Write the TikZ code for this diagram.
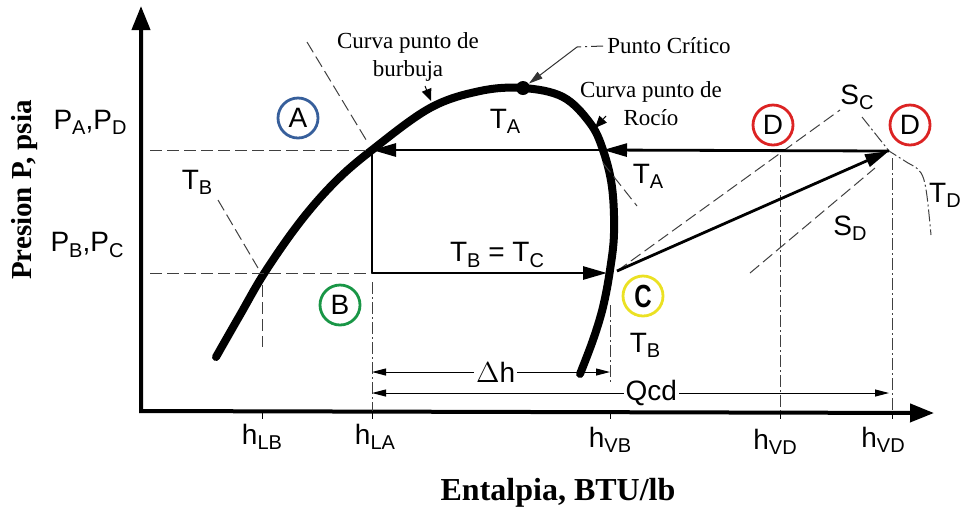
\documentclass[tikz,border=0pt]{standalone}
\usepackage{fontspec}
\setmainfont{Liberation Serif}
\newfontfamily\arial{Liberation Sans}
\definecolor{stateblue}{RGB}{55,95,155}
\definecolor{stategreen}{RGB}{25,150,70}
\definecolor{stateyellow}{RGB}{235,225,35}
\definecolor{statered}{RGB}{220,35,35}
\newcommand{\lo}[1]{\raisebox{-0.35ex}{\fontsize{10}{10}\selectfont #1}}
\usetikzlibrary{
  arrows.meta,
  positioning
}

\begin{document}
\begin{tikzpicture}[
    x=0.5pt, y=-0.5pt,
    axis/.style={line width=2pt, {Triangle[length=12pt,width=9pt]}-{Triangle[length=12pt,width=9pt]}},
    sat/.style={line width=4pt, line cap=round, line join=round},
    proc/.style={line width=1.4pt, -{Triangle[length=12pt,width=6.5pt]}},
    guide/.style={line width=0.5pt, black!75, dash pattern=on 6pt off 2.5pt},
    dashdot/.style={line width=0.5pt, black!75, dash pattern=on 6pt off 1.5pt on 1pt off 1.5pt},
    dim/.style={line width=0.5pt, {Triangle[length=7pt,width=3.5pt]}-{Triangle[length=7pt,width=3.5pt]}},
    lbl/.style={font=\arial\fontsize{14}{16}\selectfont, inner sep=1pt},
    note/.style={font=\fontsize{11.5}{14}\selectfont, align=center, inner sep=0pt},
    state/.style={circle, draw=#1, line width=1.4pt, minimum size=20pt, inner sep=0pt,
      font=\arial\fontsize{14}{16}\selectfont}
  ]

  \useasboundingbox (0,0) rectangle (961,516);

  %% Axes
  \coordinate (O) at (141,411);
  \coordinate (ytop) at (141,6);
  \coordinate (xend) at (934,413);
  \draw[axis] (ytop) -- (O) -- (xend);
  \node[font=\bfseries\fontsize{14.5}{16}\selectfont, rotate=90] (ylab) at (25,190) {Presion P, psia};
  \node[font=\bfseries\fontsize{16}{18}\selectfont] (xlab) at (558,493) {Entalpia, BTU/lb};

  %% Saturation dome
  \draw[sat] plot[smooth, tension=0.6] coordinates {(216,357) (240,315) (265,272) (300,222) (335,182)
    (372,150) (430,108) (480,91) (523,88) (563,97) (590,123) (603,150) (612,187) (614,233)
    (610,270) (603,307) (593,340) (580,374)};
  \node[circle, fill, inner sep=0pt, minimum size=7pt] (crit) at (523,88) {};

  %% Process points
  \coordinate (A) at (372,150);
  \coordinate (Adew) at (603,150);
  \coordinate (B) at (372,273);
  \coordinate (Bdew) at (607,273);
  \coordinate (C) at (617,271);
  \coordinate (D) at (889,151);

  %% Guide lines
  \coordinate (PAD) at (150,150);
  \coordinate (PBC) at (150,273);
  \draw[guide] (PAD) -- (A);
  \draw[guide] (PBC) -- (B);
  \draw[guide] (307,42) -- (368,143);
  \draw[guide] (218,200) -- (258,268);
  \draw[guide] (603,163) -- (637,206);
  \draw[guide] (C) -- (840,110);
  \draw[guide] (750,273) -- (875,168);
  \draw[dashdot] (862,117) -- (D) -- (908,163) .. controls (925,172) .. (931,235);
  \draw[guide] (262,285) -- (262,347);
  \draw[dashdot] (372,282) -- (372,411);
  \draw[dashdot] (610,305) -- (610,384);
  \draw[dashdot] (780,155) -- (780,411);
  \draw[dashdot] (892,158) -- (892,411);
  \foreach \x in {262,372,610,780,892}
    \draw[line width=0.5pt] (\x,411) -- (\x,419);

  %% Process arrows
  \draw[proc] (D) -- (Adew);
  \draw[proc] (Adew) -- (A);
  \draw[line width=1.4pt] (A) -- (B);
  \draw[proc] (B) -- (Bdew);
  \draw[proc] (C) -- (D);

  %% Dimensions
  \coordinate (dh1) at (372,372);
  \coordinate (dh2) at (610,372);
  \coordinate (q1) at (372,393);
  \coordinate (q2) at (889,393);
  \draw[dim] (dh1) -- node[lbl, fill=white, pos=0.52] (dhl) {$\Delta$h} (dh2);
  \draw[dim] (q1) -- node[lbl, fill=white, pos=0.54] (qcd) {Qcd} (q2);

  %% Curve notes
  \node[note] (bub) at (408,57) {Curva punto de\\burbuja};
  \node[note] (dew) at (651,104) {Curva punto de\\Roc\'io};
  \node[note, anchor=west] (critlbl) at (607,46) {Punto Cr\'itico};
  \coordinate (bubtip) at (431,101);
  \coordinate (dewtip) at (595,128);
  \coordinate (critbend) at (577,47);
  \draw[line width=0.5pt, -{Triangle[length=6pt,width=5pt]}] (425,86) -- (bubtip);
  \draw[line width=0.5pt, -{Triangle[length=6pt,width=5pt]}] (606,116) -- (dewtip);
  \draw[line width=0.5pt, black!80, dash pattern=on 6pt off 2pt on 1pt off 2pt]
    ([xshift=-2pt]critlbl.west) -- (critbend);
  \draw[line width=0.5pt, black!80, -{Triangle[length=7pt,width=4pt]}] (critbend) -- (crit);

  %% States
  \node[state=stateblue] (sA) at (298,118) {A};
  \node[state=stategreen] (sB) at (340,305) {B};
  \node[state=stateyellow, font=\arial\bfseries\fontsize{16}{16}\selectfont] (sC) at (643,296) {\scalebox{0.75}[1]{C}};
  \node[state=statered] (sD1) at (773,125) {D};
  \node[state=statered] (sD2) at (910,125) {D};

  %% Labels
  \node[lbl] (pad) at (90,122) {P\lo{A},P\lo{D}};
  \node[lbl] (pbc) at (87,245) {P\lo{B},P\lo{C}};
  \node[lbl] (tbl) at (197,182) {T\lo{B}};
  \node[lbl] (tat) at (505,121) {T\lo{A}};
  \node[lbl] (tad) at (648,176) {T\lo{A}};
  \node[lbl] (tbc) at (497,255) {T\lo{B} = T\lo{C}};
  \node[lbl] (sc) at (857,97) {S\lo{C}};
  \node[lbl] (sd) at (850,228) {S\lo{D}};
  \node[lbl, inner sep=0pt] (td) at (945,195) {T\lo{D}};
  \node[lbl] (tbr) at (645,345) {T\lo{B}};
  \node[lbl] (hlb) at (262,437) {h\lo{LB}};
  \node[lbl] (hla) at (375,437) {h\lo{LA}};
  \node[lbl] (hvb) at (610,440) {h\lo{VB}};
  \node[lbl] (hvd1) at (775,442) {h\lo{VD}};
  \node[lbl] (hvd2) at (883,440) {h\lo{VD}};

\end{tikzpicture}
\end{document}
